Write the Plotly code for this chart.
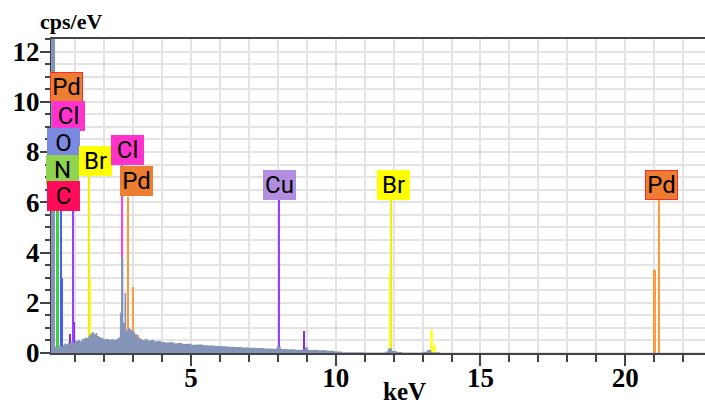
import plotly.graph_objects as go

# ---------------- data ----------------
spec_kev = [0.16, 0.30, 0.36, 0.44, 0.50, 0.56, 0.62, 0.68, 0.74, 0.80,
            0.86, 0.92, 0.98, 1.04, 1.10, 1.16, 1.22, 1.28, 1.34, 1.40,
            1.46, 1.52, 1.58, 1.64, 1.70, 1.76, 1.82, 1.88, 1.94, 2.00,
            2.08, 2.16, 2.24, 2.32, 2.40, 2.48, 2.54, 2.58, 2.66, 2.70,
            2.76, 2.82, 2.88, 2.94, 3.00, 3.06, 3.14, 3.22, 3.30, 3.40,
            3.50, 3.60, 3.72, 3.84, 3.96, 4.10, 4.25, 4.40, 4.55, 4.70,
            4.85, 5.00, 5.20, 5.40, 5.60, 5.80, 6.00, 6.25, 6.50, 6.75,
            7.00, 7.25, 7.50, 7.75, 7.96, 8.10, 8.30, 8.60, 8.86, 8.94,
            9.05, 9.40, 9.70, 9.95, 10.20, 11.00, 11.70, 11.80, 11.95, 12.10,
            12.30, 13.00, 13.15, 13.30, 13.60, 22.80]
spec_cps = [15.0, 0.25, 0.20, 0.30, 0.25, 0.33, 0.38, 0.35, 0.42, 0.40,
            0.46, 0.40, 0.50, 0.48, 0.52, 0.47, 0.55, 0.58, 0.62, 0.60,
            0.70, 0.78, 0.84, 0.76, 0.80, 0.68, 0.64, 0.60, 0.58, 0.55,
            0.56, 0.53, 0.55, 0.52, 0.56, 0.62, 1.60, 3.80, 1.20, 2.40,
            0.90, 1.00, 0.95, 0.90, 0.85, 0.75, 0.62, 0.58, 0.52, 0.55,
            0.50, 0.52, 0.47, 0.48, 0.44, 0.42, 0.43, 0.39, 0.40, 0.36,
            0.37, 0.33, 0.34, 0.31, 0.30, 0.28, 0.27, 0.25, 0.24, 0.22,
            0.21, 0.20, 0.18, 0.17, 0.26, 0.16, 0.15, 0.13, 0.13, 0.22,
            0.12, 0.11, 0.09, 0.06, 0.03, 0.02, 0.06, 0.18, 0.08, 0.04,
            0.02, 0.05, 0.12, 0.03, 0.01, 0.01]

# element line markers (tall lines up to their labels)
marker_el  = ["Cl", "C", "Pd", "N", "O", "Cu", "Br", "Cl", "Pd", "Cu", "Br", "Pd"]
marker_kev = [0.20, 0.277, 0.284, 0.392, 0.525, 0.93, 1.48, 2.62, 2.84, 8.04, 11.92, 21.18]
marker_top = [8.88, 5.73, 10.0, 6.77, 7.80, 5.70, 7.06, 7.50, 6.20, 6.14, 6.08, 6.09]

# fitted element peaks (shorter coloured bars)
peak_el  = ["N", "O", "Cu", "Cu", "Br", "Pd", "Pd", "Pd", "Cu", "Br", "Br", "Br", "Pd",
            "Pd", "Cu", "Br", "Br", "Br", "N", "N", "N", "Pd", "Pd", "Pd", "Pd", "Pd"]
peak_kev = [0.39, 0.53, 0.81, 0.95, 1.48, 2.99, 3.17, 3.58, 8.90, 11.88, 13.30, 13.42, 21.02,
            0.30, 0.86, 1.30, 1.36, 1.63, 2.35, 2.40, 2.45, 2.76, 3.05, 3.10, 3.25, 3.35]
peak_cps = [2.20, 3.00, 0.75, 1.25, 2.90, 2.63, 0.70, 0.24, 0.87, 3.15, 0.90, 0.30, 3.30,
            0.25, 0.30, 0.35, 0.25, 0.25, 0.15, 0.15, 0.20, 0.35, 0.40, 0.45, 0.30, 0.40]

# labels
label_el  = ["Pd", "Cl", "O", "N", "C", "Br", "Cl", "Pd", "Cu", "Br", "Pd"]
label_kev = [0.69, 0.76, 0.60, 0.56, 0.60, 1.70, 2.81, 3.11, 8.05, 12.00, 21.27]
label_cps = [10.59, 9.44, 8.35, 7.28, 6.24, 7.66, 8.09, 6.86, 6.70, 6.70, 6.70]
label_outlined = [True, False, False, False, False, False, False, False, False, False, True]

x_ticks = [5, 10, 15, 20]
y_ticks = [0, 2, 4, 6, 8, 10, 12]
x_range = [0.16, 22.76]
y_range = [0, 12.5]

# ---------------- styles ----------------
line_color = {"C": "#ff1a66", "N": "#3fd23f", "O": "#4a5cf0", "Cl": "#ff3cf0",
              "Pd": "#ff9933", "Cu": "#9b3cff", "Br": "#f2f200"}
peak_color = {"C": "#ff1a66", "N": "#8fe070", "O": "#4a5cf0", "Cl": "#ff3cf0",
              "Pd": "#ff9a40", "Cu": "#8a2be2", "Br": "#ffff33"}
box_color = {"C": "#ff0d5a", "N": "#8ed44f", "O": "#7a8ae0", "Cl": "#ff33cc",
             "Pd": "#ed7d31", "Cu": "#b38de0", "Br": "#ffff00"}
SPEC = "#8494b8"
GRID = "#e3e3e3"
AX = "#444444"
SERIF = "Liberation Serif, Times New Roman, serif"
SANS = "Liberation Sans Narrow, Arial Narrow, Roboto, sans-serif"

fig = go.Figure()
fig.add_trace(go.Scatter(x=spec_kev, y=spec_cps, mode="lines",
                         line=dict(shape="hv", width=0, color=SPEC),
                         fill="tozeroy", fillcolor=SPEC, hoverinfo="skip"))
fig.add_trace(go.Bar(x=peak_kev, y=peak_cps, width=0.09,
                     marker=dict(color=[peak_color[e] for e in peak_el], line=dict(width=0))))
fig.add_trace(go.Bar(x=marker_kev, y=marker_top, width=0.06,
                     marker=dict(color=[line_color[e] for e in marker_el], line=dict(width=0))))
# helper trace so the overlay axes (long major tick marks) are drawn
fig.add_trace(go.Scatter(x=[x_range[0]], y=[y_range[0]], xaxis="x2", yaxis="y2",
                         mode="markers", marker=dict(size=0, opacity=0), hoverinfo="skip"))

for el, xk, yc, outl in zip(label_el, label_kev, label_cps, label_outlined):
    fig.add_annotation(x=xk, y=yc, xref="x", yref="y", text=el, showarrow=False,
                       xanchor="center", yanchor="middle",
                       bgcolor=box_color[el],
                       bordercolor="#ff2a2a" if outl else box_color[el],
                       borderwidth=1, borderpad=0, width=31, height=28,
                       font=dict(family=SANS, size=24, color="black"))

fig.add_annotation(text="cps/eV", xref="paper", yref="paper", x=-0.02, y=1.01,
                   xanchor="left", yanchor="bottom", showarrow=False,
                   font=dict(family=SERIF, size=22, color="black", weight="bold"))
fig.add_annotation(text="keV", xref="paper", yref="paper", x=0.54, y=-0.123,
                   xanchor="center", yanchor="middle", showarrow=False,
                   font=dict(family=SERIF, size=25, color="black", weight="bold"))

fig.update_layout(
    width=705, height=405,
    margin=dict(l=51, r=0, t=39, b=52, autoexpand=False),
    paper_bgcolor="white", plot_bgcolor="white",
    showlegend=False, barmode="overlay", bargap=0,
    xaxis=dict(range=x_range, tickvals=x_ticks, ticks="",
               showline=True, linecolor=AX, linewidth=2,
               mirror=True, showgrid=True, gridcolor=GRID, gridwidth=2, zeroline=False,
               automargin=False,
               tickfont=dict(family=SERIF, size=27, color="black", weight="bold"),
               minor=dict(dtick=1, tick0=0, ticks="outside", ticklen=7, tickwidth=2,
                          tickcolor=AX, showgrid=True, gridcolor=GRID, gridwidth=2)),
    yaxis=dict(range=y_range, tickvals=y_ticks, ticks="outside", ticklen=5,
               tickwidth=2, tickcolor=AX, showline=True, linecolor=AX, linewidth=1,
               showgrid=True, gridcolor=GRID, gridwidth=2, zeroline=False,
               automargin=False,
               tickfont=dict(family=SERIF, size=27, color="black", weight="bold"),
               minor=dict(dtick=0.5, tick0=0, ticks="outside", ticklen=5, tickwidth=2,
                          tickcolor=AX, showgrid=True, gridcolor=GRID, gridwidth=2)),
    xaxis2=dict(range=x_range, overlaying="x", anchor="y", side="bottom",
                tickvals=x_ticks, ticks="outside", ticklen=12, tickwidth=2, tickcolor=AX,
                showticklabels=False, showgrid=False, showline=False, zeroline=False,
                automargin=False),
    yaxis2=dict(range=y_range, overlaying="y", anchor="x", side="left",
                tickvals=y_ticks, ticks="outside", ticklen=10, tickwidth=2, tickcolor=AX,
                showticklabels=False, showgrid=False, showline=False, zeroline=False,
                automargin=False),
)

fig.write_html("out.html", config={"displayModeBar": False},
               post_script="document.body.style.margin='0';")
